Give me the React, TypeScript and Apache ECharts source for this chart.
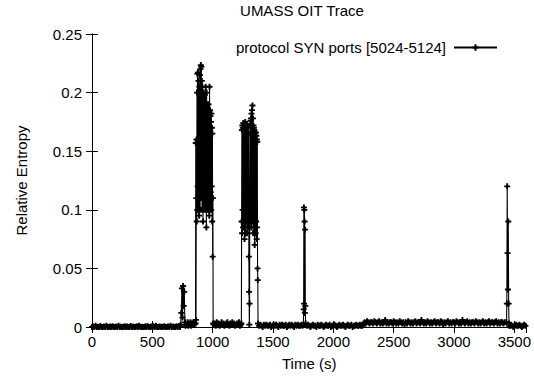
import React, { useEffect, useRef } from "react";
import * as echarts from "echarts";

const FONT = "'Liberation Sans', Arial, Helvetica, sans-serif";

const chartTitle = "UMASS OIT Trace";
const seriesName = "protocol SYN ports [5024-5124]";
const xTitle = "Time (s)";
const yTitle = "Relative Entropy";

// Relative entropy readings, one array per stretch of the trace.
const quietStart = [
  0, 0.0005, 0, 0.001, 0, 0.0003, 0, 0.0008, 0, 0,
  0.0005, 0, 0.001, 0, 0, 0.0004, 0, 0.0006, 0, 0,
  0.0005, 0, 0.001, 0, 0.0003, 0, 0, 0.0007, 0, 0.0004,
  0, 0, 0.0009, 0, 0.0005, 0, 0, 0.0006, 0, 0.001,
  0, 0.0003, 0, 0, 0.0005, 0, 0.0008, 0, 0, 0.0004,
  0, 0.0006, 0, 0.001, 0, 0, 0.0005, 0, 0.0003, 0,
  0.0007, 0, 0, 0.0005, 0, 0.001, 0, 0.0004, 0, 0,
  0.0006, 0, 0.0008, 0,
];
const spikeA = [0.002, 0.012, 0.033, 0.008, 0.035, 0.018, 0.03, 0.004, 0.001, 0.002];
const lullA = [0.002, 0.004, 0.001, 0.003, 0.002, 0.004, 0.001, 0.003, 0.002, 0.004, 0.002, 0.003];
const burstA = [
  0.003, 0.157, 0.006, 0.11, 0.16, 0.09, 0.2, 0.1, 0.216, 0.12,
  0.217, 0.1, 0.21, 0.13, 0.2, 0.095, 0.205, 0.12, 0.215, 0.1,
  0.22, 0.13, 0.2235, 0.11, 0.222, 0.14, 0.21, 0.1, 0.205, 0.12,
  0.2, 0.09, 0.195, 0.115, 0.2, 0.1, 0.19, 0.13, 0.198, 0.105,
  0.19, 0.12, 0.205, 0.1, 0.19, 0.085, 0.2, 0.115, 0.188, 0.1,
  0.19, 0.125, 0.185, 0.1, 0.19, 0.11, 0.18, 0.095, 0.205, 0.12,
  0.185, 0.1, 0.18, 0.115, 0.175, 0.1, 0.182, 0.12, 0.17, 0.09,
  0.165, 0.06, 0.11, 0.003,
];
const lullB = [
  0.002, 0.003, 0.001, 0.004, 0.002, 0.003, 0.001, 0.002, 0.004, 0.002,
  0.003, 0.001, 0.002, 0.003, 0.004, 0.002, 0.001, 0.003, 0.002, 0.004,
  0.002, 0.003, 0.001, 0.002, 0.003, 0.002, 0.004, 0.001, 0.002,
];
const burstB = [
  0.003, 0.09, 0.168, 0.08, 0.172, 0.1, 0.17, 0.085, 0.174, 0.09,
  0.168, 0.1, 0.172, 0.075, 0.17, 0.095, 0.175, 0.08, 0.169, 0.1,
  0.173, 0.09, 0.17, 0.08, 0.172, 0.1, 0.166, 0.085, 0.171, 0.11,
  0.165, 0.06, 0.03, 0.002, 0.02, 0.12, 0.172, 0.09, 0.176, 0.1,
  0.178, 0.085, 0.182, 0.1, 0.185, 0.09, 0.189, 0.1, 0.178, 0.08,
  0.172, 0.1, 0.17, 0.085, 0.168, 0.07, 0.166, 0.09, 0.165, 0.08,
  0.166, 0.09, 0.163, 0.075, 0.16, 0.085, 0.158, 0.05, 0.04, 0.003,
];
const quietB = [
  0.001, 0.002, 0.001, 0, 0.002, 0.001, 0.002, 0.001, 0.001, 0.002,
  0, 0.001, 0.002, 0.001, 0.002, 0.001, 0, 0.002, 0.001, 0.002,
  0.001, 0.001, 0.002, 0, 0.001, 0.002, 0.001, 0.002, 0.001, 0,
  0.002, 0.001, 0.002, 0.001, 0.001, 0.002, 0.001,
];
const spikeC = [0.002, 0.015, 0.102, 0.02, 0.1, 0.09, 0.012, 0.083, 0.018, 0.003];
const quietC = [
  0.001, 0.002, 0.001, 0, 0.001, 0.002, 0.001, 0.001, 0, 0.002,
  0.001, 0.001, 0.002, 0.001, 0, 0.001, 0.002, 0.001, 0.001, 0.002,
  0, 0.001, 0.001, 0.002, 0.001, 0, 0.001, 0.002, 0.001, 0.001,
  0.002, 0.001, 0, 0.001, 0.002, 0.001, 0.001, 0.002, 0, 0.001,
  0.001, 0.002, 0.001, 0.001, 0.002, 0.001, 0.001,
];
const elevated = [
  0.003, 0.004, 0.003, 0.005, 0.004, 0.003, 0.004, 0.004, 0.003, 0.005,
  0.004, 0.003, 0.004, 0.005, 0.003, 0.004, 0.003, 0.004, 0.006, 0.003,
  0.004, 0.003, 0.004, 0.004, 0.003, 0.005, 0.004, 0.003, 0.004, 0.003,
  0.005, 0.004, 0.003, 0.004, 0.002, 0.004, 0.003, 0.005, 0.004, 0.003,
  0.004, 0.003, 0.004, 0.005, 0.003, 0.004, 0.004, 0.003, 0.006, 0.004,
  0.003, 0.004, 0.003, 0.005, 0.004, 0.003, 0.004, 0.003, 0.004, 0.005,
  0.003, 0.004, 0.004, 0.003, 0.005, 0.004, 0.002, 0.004, 0.003, 0.004,
  0.005, 0.003, 0.004, 0.003, 0.004, 0.004, 0.003, 0.005, 0.004, 0.003,
  0.004, 0.003, 0.006, 0.004, 0.003, 0.004, 0.005, 0.003, 0.004, 0.003,
  0.004, 0.004, 0.003, 0.005, 0.004, 0.003, 0.004, 0.003, 0.004, 0.005,
  0.003, 0.004, 0.003, 0.004, 0.005, 0.003, 0.004, 0.004, 0.003, 0.004,
  0.005, 0.003, 0.004, 0.003, 0.004, 0.004, 0.003, 0.004,
];
const spikeD = [0.004, 0.02, 0.12, 0.063, 0.032, 0.09, 0.02, 0.003, 0.001];
const quietEnd = [0.001, 0.002, 0.001, 0, 0.001, 0.002, 0.001, 0.001, 0.002, 0.001, 0, 0.001, 0.002, 0.001, 0.001];

// [start time (s), sample step (s), values]
const segments: [number, number, number[]][] = [
  [0, 10, quietStart],
  [735, 5, spikeA],
  [786, 6, lullA],
  [858, 2, burstA],
  [1010, 8, lullB],
  [1238, 2, burstB],
  [1385, 10, quietB],
  [1752, 2, spikeC],
  [1780, 10, quietC],
  [2250, 10, elevated],
  [3435, 3, spikeD],
  [3462, 10, quietEnd],
];

const xTicks = [0, 500, 1000, 1500, 2000, 2500, 3000, 3500];

const points: [number, number][] = [];
segments.forEach(([start, step, vals]) => {
  vals.forEach((v, i) => points.push([start + i * step, v]));
});

const PLUS = "path://M3.4,0H6.6V10H3.4Z M0,3.5H10V6.5H0Z";

export default function App() {
  const ref = useRef<HTMLDivElement>(null);
  useEffect(() => {
    if (!ref.current) return;
    const chart = echarts.init(ref.current, undefined, { renderer: "svg" });
    const axisCommon = {
      axisLine: { show: true, lineStyle: { color: "#000", width: 1 } },
      axisTick: { show: true, inside: true, length: 6, lineStyle: { color: "#000", width: 1 } },
      splitLine: { show: false },
    };
    chart.setOption({
      animation: false,
      backgroundColor: "#fff",
      textStyle: { fontFamily: FONT },
      title: {
        text: chartTitle,
        left: 302,
        top: 3,
        padding: 0,
        textAlign: "center",
        textStyle: { fontFamily: FONT, fontSize: 15, fontWeight: "normal", color: "#000" },
      },
      legend: {
        data: [seriesName],
        right: 36,
        top: 40,
        padding: 0,
        align: "right",
        itemWidth: 43,
        itemHeight: 8,
        textStyle: { fontFamily: FONT, fontSize: 15, color: "#000", padding: [0, 3, 0, 0] },
      },
      grid: { left: 92, right: 7, top: 34, bottom: 51 },
      xAxis: [
        {
          type: "value",
          min: 0,
          max: 3600,
          interval: 500,
          position: "bottom",
          ...axisCommon,
          axisLabel: {
            color: "#000",
            fontSize: 15,
            fontFamily: FONT,
            margin: 7,
            showMaxLabel: false,
            formatter: (v: number) => (xTicks.includes(v) ? String(v) : ""),
          },
          name: xTitle,
          nameLocation: "middle",
          nameGap: 29,
          nameTextStyle: { color: "#000", fontSize: 15, fontFamily: FONT },
        },
        {
          type: "value",
          min: 0,
          max: 3600,
          interval: 500,
          position: "top",
          ...axisCommon,
          axisLabel: { show: false },
        },
      ],
      yAxis: [
        {
          type: "value",
          min: 0,
          max: 0.25,
          interval: 0.05,
          position: "left",
          ...axisCommon,
          axisLabel: { color: "#000", fontSize: 15, fontFamily: FONT, margin: 10 },
          name: yTitle,
          nameLocation: "middle",
          nameGap: 63,
          nameRotate: 90,
          nameTextStyle: { color: "#000", fontSize: 15, fontFamily: FONT },
        },
        {
          type: "value",
          min: 0,
          max: 0.25,
          interval: 0.05,
          position: "right",
          ...axisCommon,
          axisLabel: { show: false },
        },
      ],
      series: [
        {
          name: seriesName,
          type: "line",
          xAxisIndex: 0,
          yAxisIndex: 0,
          data: points,
          symbol: PLUS,
          symbolSize: 6,
          showSymbol: true,
          showAllSymbol: true,
          color: "#000",
          itemStyle: { color: "#000" },
          lineStyle: { color: "#000", width: 1.1 },
          emphasis: { disabled: true },
          clip: true,
        },
      ],
    });
    return () => chart.dispose();
  }, []);
  return (
    <div
      ref={ref}
      style={{ position: "fixed", left: 0, top: 0, width: 534, height: 378, background: "#fff" }}
    />
  );
}
